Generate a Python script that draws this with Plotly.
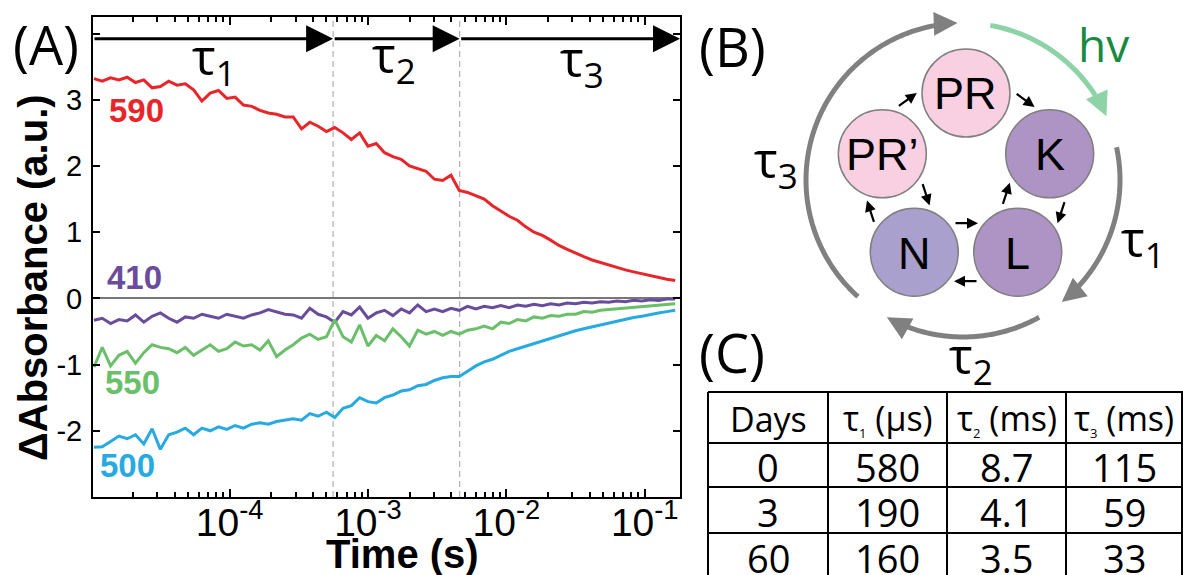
import math
import plotly.graph_objects as go

# ---------------- data ----------------
log_time = [-4.98, -4.92, -4.86, -4.80, -4.74, -4.68, -4.62, -4.56, -4.50, -4.44,
            -4.38, -4.32, -4.26, -4.20, -4.14, -4.08, -4.02, -3.96, -3.90, -3.84,
            -3.78, -3.72, -3.66, -3.60, -3.54, -3.48, -3.42, -3.36, -3.30, -3.24,
            -3.18, -3.12, -3.06, -3.00, -2.94, -2.88, -2.82, -2.76, -2.70, -2.64,
            -2.58, -2.52, -2.46, -2.40, -2.34, -2.28, -2.22, -2.16, -2.10, -2.04,
            -1.98, -1.92, -1.86, -1.80, -1.74, -1.68, -1.62, -1.56, -1.50, -1.44,
            -1.38, -1.32, -1.26, -1.20, -1.14, -1.08, -1.02, -0.96, -0.90, -0.84,
            -0.78]
time_s = [10 ** e for e in log_time]

abs_590 = [3.32, 3.28, 3.33, 3.30, 3.34, 3.26, 3.30, 3.18, 3.20, 3.28,
           3.22, 3.24, 3.15, 2.98, 3.10, 3.14, 3.02, 3.04, 2.92, 2.90,
           2.84, 2.80, 2.78, 2.74, 2.74, 2.56, 2.66, 2.60, 2.52, 2.58,
           2.50, 2.40, 2.50, 2.30, 2.34, 2.20, 2.14, 2.10, 2.00, 1.96,
           1.92, 1.80, 1.78, 1.86, 1.63, 1.60, 1.55, 1.50, 1.40, 1.32,
           1.24, 1.18, 1.08, 1.00, 0.95, 0.88, 0.80, 0.74, 0.68, 0.63,
           0.58, 0.54, 0.50, 0.46, 0.43, 0.40, 0.37, 0.34, 0.31, 0.29,
           0.27]
abs_410 = [-0.33, -0.30, -0.38, -0.32, -0.34, -0.25, -0.36, -0.27, -0.22, -0.30,
           -0.36, -0.28, -0.30, -0.24, -0.27, -0.30, -0.24, -0.27, -0.30, -0.25,
           -0.22, -0.17, -0.20, -0.24, -0.25, -0.30, -0.15, -0.24, -0.28, -0.36,
           -0.20, -0.25, -0.13, -0.30, -0.22, -0.18, -0.26, -0.16, -0.22, -0.10,
           -0.20, -0.16, -0.20, -0.15, -0.18, -0.12, -0.16, -0.12, -0.14, -0.11,
           -0.14, -0.10, -0.12, -0.09, -0.11, -0.08, -0.10, -0.07, -0.08, -0.06,
           -0.07, -0.05, -0.06, -0.04, -0.05, -0.03, -0.04, -0.02, -0.03, -0.01,
           -0.01]
abs_550 = [-1.04, -0.74, -1.02, -0.86, -0.80, -0.98, -0.82, -0.70, -0.74, -0.76,
           -0.82, -0.74, -0.86, -0.78, -0.70, -0.80, -0.76, -0.66, -0.72, -0.70,
           -0.78, -0.64, -0.88, -0.78, -0.70, -0.60, -0.54, -0.62, -0.58, -0.32,
           -0.58, -0.66, -0.40, -0.72, -0.56, -0.64, -0.46, -0.58, -0.72, -0.48,
           -0.54, -0.50, -0.56, -0.50, -0.54, -0.48, -0.46, -0.42, -0.46, -0.36,
           -0.38, -0.32, -0.34, -0.28, -0.30, -0.26, -0.27, -0.24, -0.24, -0.20,
           -0.21, -0.18, -0.17, -0.16, -0.14, -0.13, -0.12, -0.11, -0.10, -0.09,
           -0.08]
abs_500 = [-2.25, -2.24, -2.16, -2.08, -2.12, -2.06, -2.20, -1.97, -2.28, -2.06,
           -2.02, -1.96, -2.06, -1.96, -2.00, -1.94, -1.98, -1.92, -1.96, -1.90,
           -1.88, -1.90, -1.86, -1.84, -1.82, -1.84, -1.74, -1.78, -1.72, -1.80,
           -1.66, -1.62, -1.50, -1.56, -1.58, -1.50, -1.46, -1.40, -1.38, -1.32,
           -1.30, -1.24, -1.20, -1.18, -1.18, -1.10, -1.02, -0.96, -0.92, -0.86,
           -0.80, -0.76, -0.72, -0.68, -0.64, -0.60, -0.56, -0.52, -0.49, -0.46,
           -0.43, -0.40, -0.37, -0.34, -0.32, -0.29, -0.27, -0.24, -0.22, -0.20,
           -0.18]

series_names = ["590", "410", "550", "500"]
series_values = [abs_590, abs_410, abs_550, abs_500]

phase_bounds_s = [5.6e-4, 4.6e-3]
phase_labels = ["τ<sub>1</sub>", "τ<sub>2</sub>", "τ<sub>3</sub>"]

x_tick_vals = [1e-4, 1e-3, 1e-2, 1e-1]
x_tick_text = ["10<sup>-4</sup>", "10<sup>-3</sup>", "10<sup>-2</sup>", "10<sup>-1</sup>"]
x_minor_vals = [m * 10 ** d for d in (-5, -4, -3, -2) for m in range(2, 10)]
y_tick_vals = [-3, -2, -1, 0, 1, 2, 3, 4]
y_tick_text = ["", "-2", "-1", "0", "1", "2", "3", ""]

states = ["PR", "K", "L", "N", "PR’"]

table_header = ["Days",
                "τ<sub><span style='font-size:13px'>1</span></sub> (μs)",
                "τ<sub><span style='font-size:13px'>2</span></sub> (ms)",
                "τ<sub><span style='font-size:13px'>3</span></sub> (ms)"]
table_days = ["0", "3", "60"]
table_tau1 = ["580", "190", "160"]
table_tau2 = ["8.7", "4.1", "3.5"]
table_tau3 = ["115", "59", "33"]

# ---------------- styling ----------------
W, H = 1183, 575
ARIAL = "Liberation Sans, Arial, sans-serif"
MYRIAD = "Open Sans, Noto Sans, sans-serif"
series_colors = ["#e8262a", "#6a4c9c", "#6abf69", "#27aae1"]
label_pos = [(136, 110), (134, 277), (132, 382), (127, 465)]


def px(x):
    return x / W


def py(y):
    return 1 - y / H


X_RANGE = [-4.987, -0.745]
Y_RANGE = [-3.0, 4.25]

fig = go.Figure()

for b in phase_bounds_s:
    fig.add_trace(go.Scatter(x=[b, b], y=Y_RANGE, mode="lines",
                             line=dict(color="#b0b0b0", width=1.2, dash="6px,4px"),
                             hoverinfo="skip"))

for name, vals, col in zip(series_names, series_values, series_colors):
    fig.add_trace(go.Scatter(x=time_s, y=vals, mode="lines", name=name,
                             line=dict(color=col, width=3)))

annotations = []
shapes = []

# phase arrows along the top of panel A
arrow_y = 3.92
edges = [X_RANGE[0]] + [math.log10(b) for b in phase_bounds_s] + [X_RANGE[1]]
for i in range(3):
    annotations.append(dict(x=edges[i + 1], y=arrow_y, ax=edges[i], ay=arrow_y,
                            xref="x", yref="y", axref="x", ayref="y", text="",
                            showarrow=True, arrowhead=2, arrowsize=1.8, arrowwidth=3,
                            arrowcolor="black", standoff=0, startstandoff=0))


def ann(text, x, y, size, color="black", family=MYRIAD, bold=False, **kw):
    if bold:
        text = "<b>" + text + "</b>"
    d = dict(text=text, x=px(x), y=py(y), xref="paper", yref="paper", showarrow=False,
             font=dict(size=size, color=color, family=family),
             xanchor="center", yanchor="middle")
    d.update(kw)
    return d


for (lx, ly), name, col in zip(label_pos, series_names, series_colors):
    annotations.append(ann(name, lx, ly, 33, col, ARIAL, bold=True))

for lab, (lx, ly) in zip(phase_labels, [(214, 59), (394, 57), (582, 61)]):
    annotations.append(ann(lab, lx, ly, 50))

annotations.append(ann("(A)", 46, 44, 54))
annotations.append(ann("(B)", 732, 46, 54))
annotations.append(ann("(C)", 732, 352, 54))
annotations.append(ann("ΔAbsorbance (a.u.)", 33, 278, 40, family=ARIAL, bold=True, textangle=-90))
annotations.append(ann("Time (s)", 402, 554, 40, family=ARIAL, bold=True))

# ---------------- panel B: photocycle diagram ----------------
cx, cy, ring_r, circ_r = 966, 181, 88, 44
state_angles = [90, 18, -54, -126, 162]
state_fill = ["#f9d0e2", "#ae94c5", "#ae94c5", "#a9a0cd", "#f9d0e2"]
centers = []
for a in state_angles:
    centers.append((cx + ring_r * math.cos(math.radians(a)),
                    cy - ring_r * math.sin(math.radians(a))))
for (x0, y0), name, fill in zip(centers, states, state_fill):
    shapes.append(dict(type="circle", xref="paper", yref="paper",
                       x0=px(x0 - circ_r), x1=px(x0 + circ_r),
                       y0=py(y0 + circ_r), y1=py(y0 - circ_r),
                       fillcolor=fill, line=dict(color="#808080", width=1.5)))
    annotations.append(ann(name, x0, y0 + 1, 45, family=ARIAL))

# small arrows between states: (from, to, side) side +1 outer, -1 inner
links = [(4, 0, 1), (0, 1, 1), (1, 2, 1), (2, 3, 1), (3, 4, 1),
         (4, 3, -1), (3, 2, -1), (2, 1, -1)]
for a, b, side in links:
    (ax_, ay_), (bx_, by_) = centers[a], centers[b]
    mx, my = (ax_ + bx_) / 2, (ay_ + by_) / 2
    nx, ny = mx - cx, my - cy
    nl = math.hypot(nx, ny)
    nx, ny = nx / nl, ny / nl
    ux, uy = bx_ - ax_, by_ - ay_
    ul = math.hypot(ux, uy)
    ux, uy = ux / ul, uy / ul
    ox, oy = mx + side * 29 * nx, my + side * 29 * ny
    hx, hy = ox + 12 * ux, oy + 12 * uy
    annotations.append(dict(x=px(hx), y=py(hy), xref="paper", yref="paper",
                            ax=-24 * ux, ay=-24 * uy, text="", showarrow=True,
                            arrowhead=2, arrowsize=1.0, arrowwidth=2.2,
                            arrowcolor="black", standoff=0))

# big arcs around the cycle
ocx, ocy, orr = 963, 180, 157
arcs = [(228, 92, "#808080"), (80, 24, "#8ed3a6"), (12, -51, "#808080"), (-61, -119, "#808080")]
for a0, a1, col in arcs:
    stop = a1 + 4
    n = int(abs(a0 - stop)) + 1
    pts = []
    for k in range(n + 1):
        t = math.radians(a0 + (stop - a0) * k / n)
        pts.append((px(ocx + orr * math.cos(t)), py(ocy - orr * math.sin(t))))
    path = "M " + " L ".join(f"{x:.5f},{y:.5f}" for x, y in pts)
    shapes.append(dict(type="path", path=path, xref="paper", yref="paper",
                       line=dict(color=col, width=5)))
    t1 = math.radians(a1)
    tipx, tipy = ocx + orr * math.cos(t1), ocy - orr * math.sin(t1)
    dx, dy = math.sin(t1), math.cos(t1)
    annotations.append(dict(x=px(tipx), y=py(tipy), xref="paper", yref="paper",
                            ax=-16 * dx, ay=-16 * dy, text="", showarrow=True,
                            arrowhead=2, arrowsize=0.95, arrowwidth=5,
                            arrowcolor=col, standoff=0))

annotations.append(ann("τ<sub>3</sub>", 776, 162, 50))
annotations.append(ann("τ<sub>1</sub>", 1143, 241, 50))
annotations.append(ann("τ<sub>2</sub>", 971, 358, 50))
annotations.append(ann("hv", 1103, 44, 46, color="#178a3f"))

# ---------------- panel C: table ----------------
col_edges = [708, 828, 947, 1066, 1182]
row_edges = [392, 443, 487, 533, 578]
for xe in col_edges:
    shapes.append(dict(type="line", xref="paper", yref="paper", x0=px(xe), x1=px(xe),
                       y0=py(row_edges[0]), y1=0, line=dict(color="black", width=2)))
for ye in row_edges[:-1]:
    shapes.append(dict(type="line", xref="paper", yref="paper", x0=px(col_edges[0]), x1=1,
                       y0=py(ye), y1=py(ye), line=dict(color="black", width=2)))
columns = [table_days, table_tau1, table_tau2, table_tau3]
for j, head in enumerate(table_header):
    xc = (col_edges[j] + col_edges[j + 1]) / 2
    annotations.append(ann(head, xc, (row_edges[0] + row_edges[1]) / 2 + 1, 34))
    for i, val in enumerate(columns[j]):
        yc = (row_edges[i + 1] + row_edges[i + 2]) / 2 + 2
        annotations.append(ann(val, xc, yc, 38))

fig.update_layout(
    width=W, height=H, margin=dict(l=0, r=0, t=0, b=0, autoexpand=False),
    paper_bgcolor="white", plot_bgcolor="white", showlegend=False,
    font=dict(family=ARIAL, color="black"),
    xaxis=dict(type="log", range=X_RANGE, domain=[px(93), px(680)],
               showline=True, linecolor="black", linewidth=2, mirror="ticks",
               ticks="inside", ticklen=8, tickwidth=1.5, tickcolor="black",
               tickvals=x_tick_vals, ticktext=x_tick_text, ticklabelstandoff=-10,
               tickfont=dict(size=39, family=ARIAL), showgrid=False, zeroline=False,
               minor=dict(tickvals=x_minor_vals, ticks="inside", ticklen=5,
                          tickwidth=1.5, tickcolor="black", showgrid=False),
               automargin=False),
    yaxis=dict(range=Y_RANGE, domain=[py(497), py(17)],
               showline=True, linecolor="black", linewidth=2, mirror="ticks",
               ticks="inside", ticklen=7, tickwidth=1.5, tickcolor="black",
               tickvals=y_tick_vals, ticktext=y_tick_text, ticklabelstandoff=3,
               tickfont=dict(size=29, family=ARIAL), showgrid=False,
               zeroline=True, zerolinecolor="#777777", zerolinewidth=1.5,
               automargin=False),
    annotations=annotations, shapes=shapes,
)

fig.write_html("out.html", config={"displayModeBar": False},
               post_script="document.body.style.margin='0';document.body.style.overflow='hidden';")
